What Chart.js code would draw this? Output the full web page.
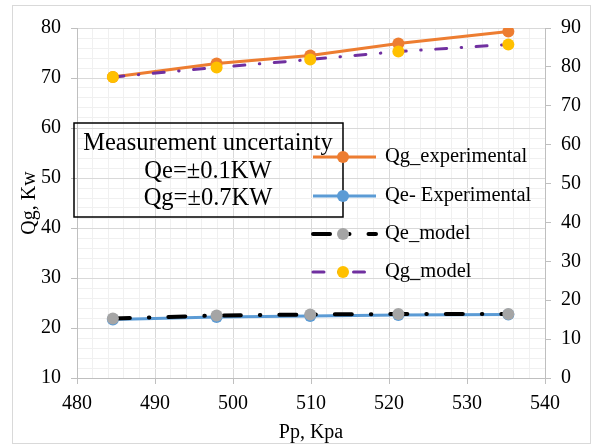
<!DOCTYPE html>
<html>
<head>
<meta charset="utf-8">
<script src="https://cdn.jsdelivr.net/npm/chart.js@4.4.1/dist/chart.umd.min.js"></script>
<style>
  body { margin: 0; background: #fff; }
  #wrap { width: 597px; height: 446px; }
</style>
</head>
<body>
<div id="wrap"><canvas id="mycanvas" width="597" height="446"></canvas></div>
<script>
// Pp, Kpa
var pressure = [484.6, 497.9, 509.9, 521.2, 535.3];
// kW
var qgExperimental = [70.2, 72.9, 74.5, 76.9, 79.3];
var qeExperimental = [21.7, 22.2, 22.4, 22.6, 22.7];
var qeModel = [21.9, 22.5, 22.7, 22.8, 22.8];
var qgModel = [70.2, 72.1, 73.7, 75.3, 76.7];

var seriesNames = ['Qg_experimental', 'Qe- Experimental', 'Qe_model', 'Qg_model'];
var noteLines = ['Measurement uncertainty', 'Qe=\u00b10.1KW', 'Qg=\u00b10.7KW'];

var serif = '"Liberation Serif", "Times New Roman", serif';

function points(ys) {
  var out = [];
  for (var i in ys) out.push({ x: pressure[i], y: ys[i] });
  return out;
}

function isMajor(v) { return Math.abs(v % 10) < 0.001; }
function gridColor(ctx) { return isMajor(ctx.tick.value) ? '#d9d9d9' : '#f0f0f0'; }
function tickColor(ctx) { return isMajor(ctx.tick.value) ? '#bfbfbf' : 'rgba(0,0,0,0)'; }
function majorLabel(v) { return isMajor(v) ? String(Math.round(v)) : ''; }

var chartdata = {
  datasets: [
    {
      label: seriesNames[0], data: points(qgExperimental), order: 4,
      borderColor: '#ED7D31', backgroundColor: '#ED7D31', borderWidth: 3,
      pointRadius: 6, pointBorderWidth: 0
    },
    {
      label: seriesNames[1], data: points(qeExperimental), order: 3,
      borderColor: '#5B9BD5', backgroundColor: '#5B9BD5', borderWidth: 3,
      pointRadius: 6, pointBorderWidth: 0
    },
    {
      label: seriesNames[2], data: points(qeModel), order: 2,
      borderColor: '#000000', backgroundColor: '#A5A5A5', borderWidth: 4,
      borderDash: [17, 19, 0.5, 19], borderCapStyle: 'round',
      pointRadius: 6, pointBorderWidth: 0
    },
    {
      label: seriesNames[3], data: points(qgModel), order: 1,
      borderColor: '#7030A0', backgroundColor: '#FFC000', borderWidth: 3,
      borderDash: [11, 14.5, 0.5, 14.5], borderCapStyle: 'round',
      pointRadius: 6, pointBorderWidth: 0
    }
  ]
};

// box outline, uncertainty note and legend
var extras = {
  id: 'extras',
  afterDraw: function(chart) {
    var c = chart.ctx;
    c.save();
    c.strokeStyle = '#d9d9d9';
    c.lineWidth = 1;
    c.strokeRect(12.5, 5.5, 578, 438);

    c.strokeStyle = '#000';
    c.lineWidth = 1.5;
    c.strokeRect(74, 123, 269, 94);
    c.fillStyle = '#000';
    c.font = '24.5px ' + serif;
    c.textAlign = 'center';
    c.textBaseline = 'middle';
    c.fillText(noteLines[0], 208, 144);
    c.fillText(noteLines[1], 208, 172);
    c.fillText(noteLines[2], 208, 199);

    var rows = [157, 196, 234, 272];
    chart.data.datasets.forEach(function(ds, i) {
      var y = rows[i];
      c.save();
      c.strokeStyle = ds.borderColor;
      c.lineWidth = ds.borderWidth;
      c.lineCap = ds.borderCapStyle || 'butt';
      c.setLineDash(ds.borderDash || []);
      c.beginPath();
      c.moveTo(313, y);
      c.lineTo(376, y);
      c.stroke();
      c.restore();
      c.fillStyle = ds.backgroundColor;
      c.beginPath();
      c.arc(343, y, 6, 0, Math.PI * 2);
      c.fill();
      c.fillStyle = '#000';
      c.font = '20.5px ' + serif;
      c.textAlign = 'left';
      c.fillText(ds.label, 385, y);
    });
    c.restore();
  }
};

var ctx = document.getElementById('mycanvas');

var graph = new Chart(ctx, {
  type: 'scatter',
  data: chartdata,
  plugins: [extras],
  options: {
    responsive: false,
    animation: false,
    showLine: true,
    layout: { padding: { top: 28, left: 0, right: 0, bottom: 0 } },
    plugins: { legend: { display: false }, tooltip: { enabled: false } },
    scales: {
      x: {
        type: 'linear', min: 480, max: 540,
        afterFit: function(s) { s.height = 68; },
        ticks: {
          stepSize: 2, autoSkip: false, maxRotation: 0, padding: 8,
          color: '#000', font: { family: serif, size: 20 },
          callback: majorLabel
        },
        grid: { color: gridColor, tickColor: tickColor, tickLength: 6, lineWidth: 1 },
        border: { color: '#bfbfbf', width: 1 },
        title: {
          display: true, text: 'Pp, Kpa', color: '#000',
          font: { family: serif, size: 20 }, padding: { top: 0, bottom: 1 }
        }
      },
      y: {
        position: 'left', min: 10, max: 80,
        afterFit: function(s) { s.width = 77; },
        ticks: {
          stepSize: 2, autoSkip: false, padding: 10,
          color: '#000', font: { family: serif, size: 20 },
          callback: majorLabel
        },
        grid: { color: gridColor, tickColor: tickColor, tickLength: 6 },
        border: { color: '#bfbfbf', width: 1 },
        title: {
          display: true, text: 'Qg, Kw', color: '#000',
          font: { family: serif, size: 20 }, padding: { top: 18, bottom: 0 }
        }
      },
      y2: {
        position: 'right', min: 0, max: 90,
        afterFit: function(s) { s.width = 52; },
        ticks: {
          stepSize: 10, padding: 10,
          color: '#000', font: { family: serif, size: 20 }
        },
        grid: { drawOnChartArea: false, tickColor: '#bfbfbf', tickLength: 6 },
        border: { color: '#bfbfbf', width: 1 }
      }
    }
  }
});
</script>
</body>
</html>
